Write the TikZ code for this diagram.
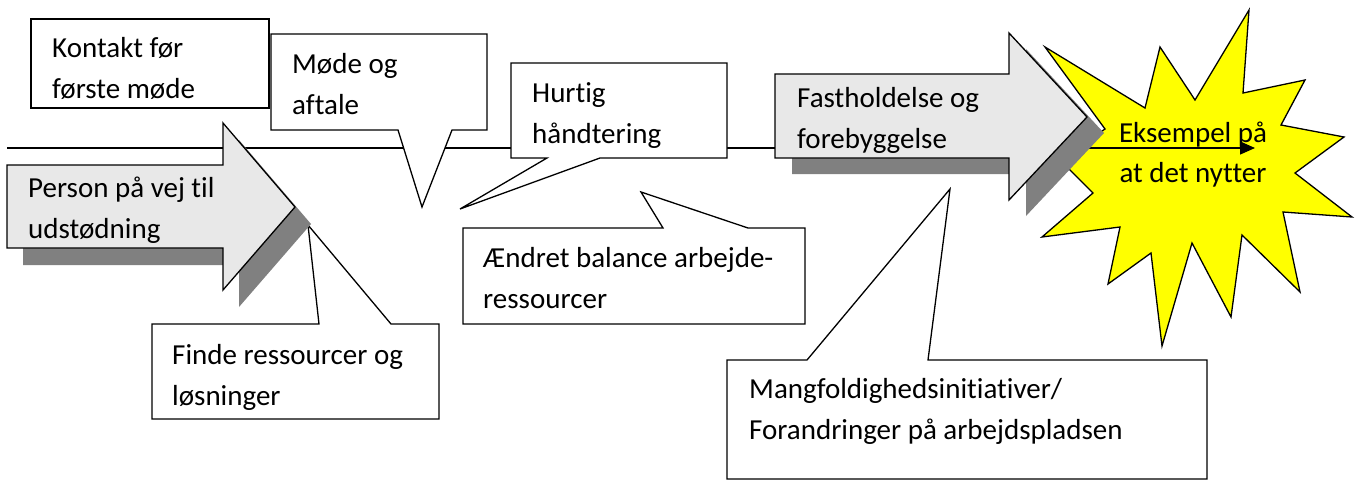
\documentclass[tikz,border=0pt]{standalone}
\usepackage{fontspec}
\setmainfont{Carlito}[Ligatures=CommonOff]
\usetikzlibrary{arrows.meta}
\definecolor{arrowfill}{HTML}{E8E8E8}
\definecolor{shadowgray}{HTML}{808080}
\definecolor{staryellow}{HTML}{FFFF00}
\newcommand{\twoln}[2]{\vtop{\baselineskip=41pt\hbox{#1}\hbox{#2}}}
\newcommand{\twolnc}[2]{\vtop{\baselineskip=40pt\hbox to 0pt{\hss#1\hss}\hbox to 0pt{\hss#2\hss}}}
\tikzset{
  outl/.style={draw=black, line width=1.3pt, line join=miter},
  boxshape/.style={outl, fill=white},
  arrshape/.style={outl, fill=arrowfill},
  shadowshape/.style={fill=shadowgray},
  txt/.style={inner sep=0pt, anchor=base west, font=\fontsize{29}{41}\selectfont},
  ctxt/.style={inner sep=0pt, anchor=base, font=\fontsize{29}{40}\selectfont}
}
\begin{document}
\begin{tikzpicture}[x=1pt, y=-1pt]
\useasboundingbox (0,0) rectangle (1357,482);
% star
\draw[outl, fill=staryellow] (1045,47) -- (1145,108) -- (1160,47) -- (1195,100) -- (1249,10) -- (1243,93) -- (1305,80) -- (1281,125) -- (1344,137) -- (1295,173) -- (1352,217) -- (1283,212) -- (1300,292) -- (1242,235) -- (1231,317) -- (1192,243) -- (1162,346) -- (1151,253) -- (1108,284) -- (1120,227) -- (1042,237) -- (1093,193) -- (1060,160) -- (1105,129) -- cycle;
% main time line
\coordinate (lstart) at (7,148);
\coordinate (lend) at (1255,148);
\draw[line width=1.3pt, -{Triangle[length=15pt,width=13pt]}] (lstart) -- (lend);
% Kontakt box
\draw[boxshape] (31,19) rectangle (269,108);
\node[txt] (kontakt) at (52,57) {\twoln{Kontakt før}{første møde}};
% Møde callout
\draw[boxshape] (271,34) -- (487,34) -- (487,130) -- (452,130) -- (422,207) -- (398,130) -- (271,130) -- cycle;
\node[txt] (mode) at (292,73) {\twoln{Møde og}{aftale}};
% Hurtig callout
\draw[boxshape] (511,63) -- (727,63) -- (727,158) -- (600,158) -- (460,209) -- (547,158) -- (511,158) -- cycle;
\node[txt] (hurtig) at (532,102) {\twoln{Hurtig}{håndtering}};
% Aendret callout
\draw[boxshape] (463,228) -- (663,228) -- (641,192) -- (748,228) -- (805,228) -- (805,324) -- (463,324) -- cycle;
\node[txt] (aendret) at (483,267) {\twoln{Ændret balance arbejde-}{ressourcer}};
% Finde callout
\draw[boxshape] (152,324) -- (319,324) -- (308,225) -- (391,324) -- (439,324) -- (439,419) -- (152,419) -- cycle;
\node[txt] (finde) at (172,364) {\twoln{Finde ressourcer og}{løsninger}};
% Mangfoldighed callout
\draw[boxshape] (727,360) -- (807,360) -- (950,189) -- (928,360) -- (1207,360) -- (1207,479) -- (727,479) -- cycle;
\node[txt] (mangfold) at (749,398) {\twoln{Mangfoldighedsinitiativer/}{Forandringer på arbejdspladsen}};
% Person arrow
\fill[shadowgray, shift={(16,17)}] (7,165) -- (223,165) -- (223,123) -- (295,207) -- (223,290) -- (223,248) -- (7,248) -- cycle;
\draw[arrshape] (7,165) -- (223,165) -- (223,123) -- (295,207) -- (223,290) -- (223,248) -- (7,248) -- cycle;
\node[txt] (person) at (28,197) {\twoln{Person på vej til}{udstødning}};
% Fastholdelse arrow
\fill[shadowgray, shift={(17,16)}] (775,74) -- (1009,74) -- (1009,33) -- (1087,117) -- (1009,200) -- (1009,158) -- (775,158) -- cycle;
\draw[arrshape] (775,74) -- (1009,74) -- (1009,33) -- (1087,117) -- (1009,200) -- (1009,158) -- (775,158) -- cycle;
\node[txt] (fasthold) at (797,107) {\twoln{Fastholdelse og}{forebyggelse}};
% star text
\node[ctxt] (eksempel) at (1193,142) {\twolnc{Eksempel på}{at det nytter}};
\end{tikzpicture}
\end{document}
